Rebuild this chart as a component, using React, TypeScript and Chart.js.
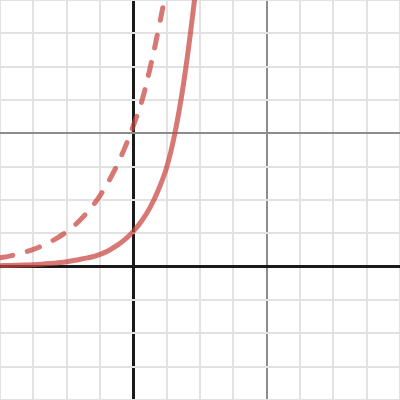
import React, { useEffect, useRef } from 'react';
import { Chart, registerables } from 'chart.js';

Chart.register(...registerables);

const solidX = [-4, -3.75, -3.5, -3.25, -3, -2.75, -2.5, -2.25, -2, -1.75, -1.5, -1.25, -1, -0.75, -0.5, -0.25, 0, 0.25, 0.5, 0.75, 1, 1.25, 1.5, 1.75, 2, 2.25];
const solidY = [0.03, 0.035, 0.04, 0.05, 0.06, 0.075, 0.095, 0.12, 0.15, 0.19, 0.24, 0.29, 0.37, 0.48, 0.63, 0.82, 1.06, 1.37, 1.77, 2.3, 2.98, 4.02, 5.45, 7.3, 9.5, 12.3];

const dashX = [-4, -3.75, -3.5, -3.25, -3, -2.75, -2.5, -2.25, -2, -1.75, -1.5, -1.25, -1, -0.75, -0.5, -0.25, 0, 0.25, 0.5, 0.75, 1, 1.25, 1.5];
const dashY = [0.27, 0.31, 0.37, 0.44, 0.52, 0.62, 0.74, 0.88, 1.05, 1.25, 1.5, 1.79, 2.13, 2.54, 3.02, 3.58, 4.23, 4.95, 5.95, 7.1, 8.4, 10.0, 11.9];

const curveColor = 'rgba(199, 68, 64, 0.72)';

const gridColor = (v: number) => (v === 0 ? '#1a1a1a' : v === 4 ? '#8c8c8c' : '#e2e2e2');
const gridWidth = (v: number) => (v === 0 ? 3 : 2);

const App: React.FC = () => {
  const canvasRef = useRef<HTMLCanvasElement>(null);

  useEffect(() => {
    document.body.style.margin = '0';
    const ctx = canvasRef.current?.getContext('2d');
    if (!ctx) return;
    const chart = new Chart(ctx, {
      type: 'line',
      data: {
        datasets: [
          {
            data: solidX.map((x, i) => ({ x, y: solidY[i] })),
            borderColor: curveColor,
            borderWidth: 5,
            pointRadius: 0,
            tension: 0.35,
            fill: false,
          },
          {
            data: dashX.map((x, i) => ({ x, y: dashY[i] })),
            borderColor: curveColor,
            borderWidth: 5,
            borderDash: [13, 15],
            borderCapStyle: 'round',
            pointRadius: 0,
            tension: 0.35,
            fill: false,
          },
        ],
      },
      options: {
        animation: false,
        responsive: false,
        layout: { padding: 0 },
        plugins: { legend: { display: false }, tooltip: { enabled: false } },
        scales: {
          x: {
            type: 'linear',
            min: -4,
            max: 8,
            ticks: { display: false, stepSize: 1 },
            border: { display: false },
            grid: {
              drawTicks: false,
              color: (c: any) => gridColor(c.tick?.value),
              lineWidth: (c: any) => gridWidth(c.tick?.value),
            },
          },
          y: {
            type: 'linear',
            min: -4,
            max: 8,
            ticks: { display: false, stepSize: 1 },
            border: { display: false },
            grid: {
              drawTicks: false,
              color: (c: any) => gridColor(c.tick?.value),
              lineWidth: (c: any) => gridWidth(c.tick?.value),
            },
          },
        },
      },
    });
    return () => chart.destroy();
  }, []);

  return (
    <div style={{ position: 'absolute', left: 0, top: 0, width: 400, height: 400, background: '#fff' }}>
      <canvas ref={canvasRef} width={400} height={400} style={{ width: 400, height: 400 }} />
    </div>
  );
};

export default App;
